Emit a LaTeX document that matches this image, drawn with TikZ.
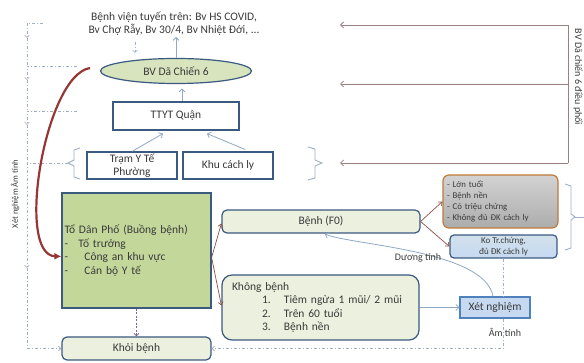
\documentclass[tikz,border=0pt]{standalone}
\usepackage{fontspec}
\setmainfont{Carlito}
\usetikzlibrary{shapes.geometric,arrows.meta}
\definecolor{boxline}{HTML}{3B5A80}
\definecolor{txtgray}{HTML}{3A3A3A}
\definecolor{greenfill}{HTML}{C4D79B}
\definecolor{ellfill}{HTML}{D7E4BD}
\definecolor{palefill}{HTML}{EBF1DE}
\definecolor{lightarr}{HTML}{8FA8C4}
\definecolor{brownarr}{HTML}{8A4F45}
\definecolor{mauvearr}{HTML}{9A8080}
\definecolor{ddline}{HTML}{9FB0C4}
\definecolor{redcurve}{HTML}{953735}
\definecolor{orangeline}{HTML}{C07A3A}
\definecolor{bluefill}{HTML}{C6D9F1}
\definecolor{blueline}{HTML}{4F81BD}
\begin{document}
\begin{tikzpicture}[x=1pt,y=-1pt,
  txt/.style={text=txtgray,font=\fontsize{11.5}{13.3}\selectfont},
  small/.style={text=txtgray,font=\fontsize{8.8}{11}\selectfont},
  lbl/.style={text=txtgray,font=\fontsize{10}{11}\selectfont},
  box/.style={draw=boxline,line width=1.2pt,fill=white,inner sep=0pt,align=center,txt},
  rbox/.style={box,rounded corners=5pt,fill=palefill},
  larr/.style={draw=lightarr,line width=0.8pt,-{Straight Barb[length=3pt,width=6pt]}},
  barr/.style={draw=brownarr,line width=0.7pt,-{Straight Barb[length=3pt,width=5pt]}},
  marr/.style={draw=mauvearr,line width=0.8pt,-{Straight Barb[length=3pt,width=6pt]}},
  dd/.style={draw=ddline,line width=0.7pt,dash pattern=on 3pt off 2pt on 1pt off 2pt},
  ddarr/.style={dd,-{Straight Barb[length=2.5pt,width=5pt]}},
  brace/.style={draw=ddline,line width=0.9pt}]
\useasboundingbox (0,0) rectangle (584,363);

% upper levels
\node[txt,align=center] (tuyentren) at (174,24) {Bệnh viện tuyến trên: Bv HS COVID,\\Bv Chợ Rẫy, Bv 30/4, Bv Nhiệt Đới, ...};
\node[box,ellipse,fill=ellfill,minimum width=151pt,minimum height=25pt] (bvdc) at (176,71) {BV Dã Chiến 6};
\node[box,minimum width=126pt,minimum height=28pt] (ttyt) at (176,116) {TTYT Quận};
\node[box,minimum width=90pt,minimum height=27pt] (tram) at (132,165.5) {Trạm Y Tế\\Phường};
\node[box,minimum width=90pt,minimum height=27pt] (khu) at (228,165.5) {Khu cách ly};

\coordinate (dn) at (135,42);
\draw[ddarr] (dn) -- ++(0,11);
\draw[larr] (bvdc.north) -- ++(0,-21);
\draw[larr] ([xshift=6pt]ttyt.north) -- ++(0,-13);
\draw[larr] (tram.north) -- ([xshift=-13pt,yshift=-3pt]ttyt.south);
\draw[larr] ([xshift=17pt,yshift=2pt]khu.north) -- ([xshift=31pt,yshift=-3pt]ttyt.south);

% braces
\draw[brace] (80,148) -- (74,150) -- (74,160) -- (68,163) -- (74,166) -- (74,177) -- (80,179);
\draw[brace] (308,147) -- (315,149) -- (315,160) -- (322,163) -- (315,166) -- (315,178) -- (308,180);
\draw[brace] (565,184) -- (571,186) -- (571,214) -- (575,217) -- (571,220) -- (571,248) -- (565,250);
\draw[brace] (575,217) -- (584,217);

% BV Da chien 6 dieu phoi
\coordinate (rt) at (568,25);
\coordinate (rm) at (568,84);
\coordinate (rb) at (568,163);
\draw[draw=mauvearr,line width=0.8pt] (rt) -- (rb);
\draw[marr] (rt) -- (340,25);
\draw[marr] (rm) -- (340,84);
\draw[marr] (rb) -- (340,163);
\node[lbl,rotate=-90] (dieuphoi) at (578,77) {BV Dã chiến 6 điều phối};

% lower part
\node[box,fill=greenfill,minimum width=149pt,minimum height=115pt,text width=144pt,align=left,font=\fontsize{11.5}{13.6}\selectfont] (todan) at (136.5,250.5)
  {Tổ Dân Phố (Buồng bệnh)\\\makebox[14pt][l]{-}Tố trưởng\\\makebox[20pt][l]{-}Công an khu vực\\\makebox[20pt][l]{-}Cán bộ Y tế};
\node[rbox,minimum width=198pt,minimum height=23pt] (benh) at (321,221.5) {Bệnh (F0)};
\node[rbox,rounded corners=10pt,minimum width=197pt,minimum height=65pt,text width=177pt,align=left] (khong) at (320.5,307.5)
  {Không bệnh\\\hspace*{30pt}\makebox[22pt][l]{1.}Tiêm ngừa 1 mũi/ 2 mũi\\\hspace*{30pt}\makebox[22pt][l]{2.}Trên 60 tuổi\\\hspace*{30pt}\makebox[22pt][l]{3.}Bệnh nền};
\node[box,small,rounded corners=6pt,draw=orangeline,top color=gray!35,bottom color=gray!65,minimum width=115pt,minimum height=53pt,text width=107pt,align=left] (nang) at (500.5,201.5)
  {- Lớn tuổi\\- Bệnh nền\\- Có triệu chứng\\- Không đủ ĐK cách ly};
\node[box,rounded corners=4pt,draw=boxline,top color=palefill!30!bluefill,bottom color=bluefill,minimum width=107pt,minimum height=23pt,text=txtgray,font=\fontsize{9}{10.5}\selectfont] (nhe) at (503.5,246.5)
  {Ko Tr.chứng,\\đủ ĐK cách ly};
\node[box,draw=blueline,fill=bluefill,minimum width=70pt,minimum height=21pt] (xn) at (495,307.5) {Xét nghiệm};
\node[rbox,minimum width=149pt,minimum height=23pt] (khoi) at (136.5,348.5) {Khỏi bệnh};

\draw[barr] ([yshift=-7pt]todan.east) -- ([yshift=-2pt]benh.west);
\draw[barr] ([yshift=-7pt]todan.east) -- ([yshift=2pt]khong.west);
\draw[barr] (benh.east) -- (nang.west);
\draw[barr] (benh.east) -- (nhe.west);
\draw[larr] (khong.east) -- (xn.west);
\draw[larr] ([xshift=-2pt]xn.north) .. controls (485,250) and (350,245) .. (325,234);
\node[lbl] (duong) at (418,258) {Dương tính};

\draw[dd] (nhe.south) -- (nhe.south |- xn.north);
\draw[ddarr] (xn.south -| nhe.south) |- (khoi.east);
\node[lbl] (am) at (505,332) {Âm tính};
\draw[draw=mauvearr!80!blue,line width=0.7pt,dash pattern=on 2pt off 1.5pt,-{Straight Barb[length=2.5pt,width=5pt]}] (todan.south) -- (khoi.north);

% Xet nghiem am tinh
\coordinate (l0) at (43,23);
\coordinate (l1) at (77,66);
\coordinate (l2) at (77,111);
\coordinate (lb) at (68,163);
\draw[ddarr] (l0) -| (27,38);
\draw[dd] (27,38) -- (27,66);
\draw[ddarr] (l1) -| (27,80);
\draw[dd] (27,80) -- (27,111);
\draw[ddarr] (l2) -| (27,125);
\draw[dd] (27,125) -- (27,163);
\draw[ddarr] (lb) -| (27,268);
\draw[ddarr] (27,268) |- (khoi.west);
\node[text=txtgray,font=\fontsize{8.5}{10}\selectfont,rotate=90] (amtinh) at (15,194) {Xét nghiệm Âm tính};

% BV Da chien 6 -> To dan pho
\draw[draw=redcurve,line width=2.2pt,-{Latex[length=7pt,width=7pt]}] (90,68) .. controls (45,75) and (15,255) .. ([yshift=-6pt]todan.west);
\end{tikzpicture}
\end{document}
